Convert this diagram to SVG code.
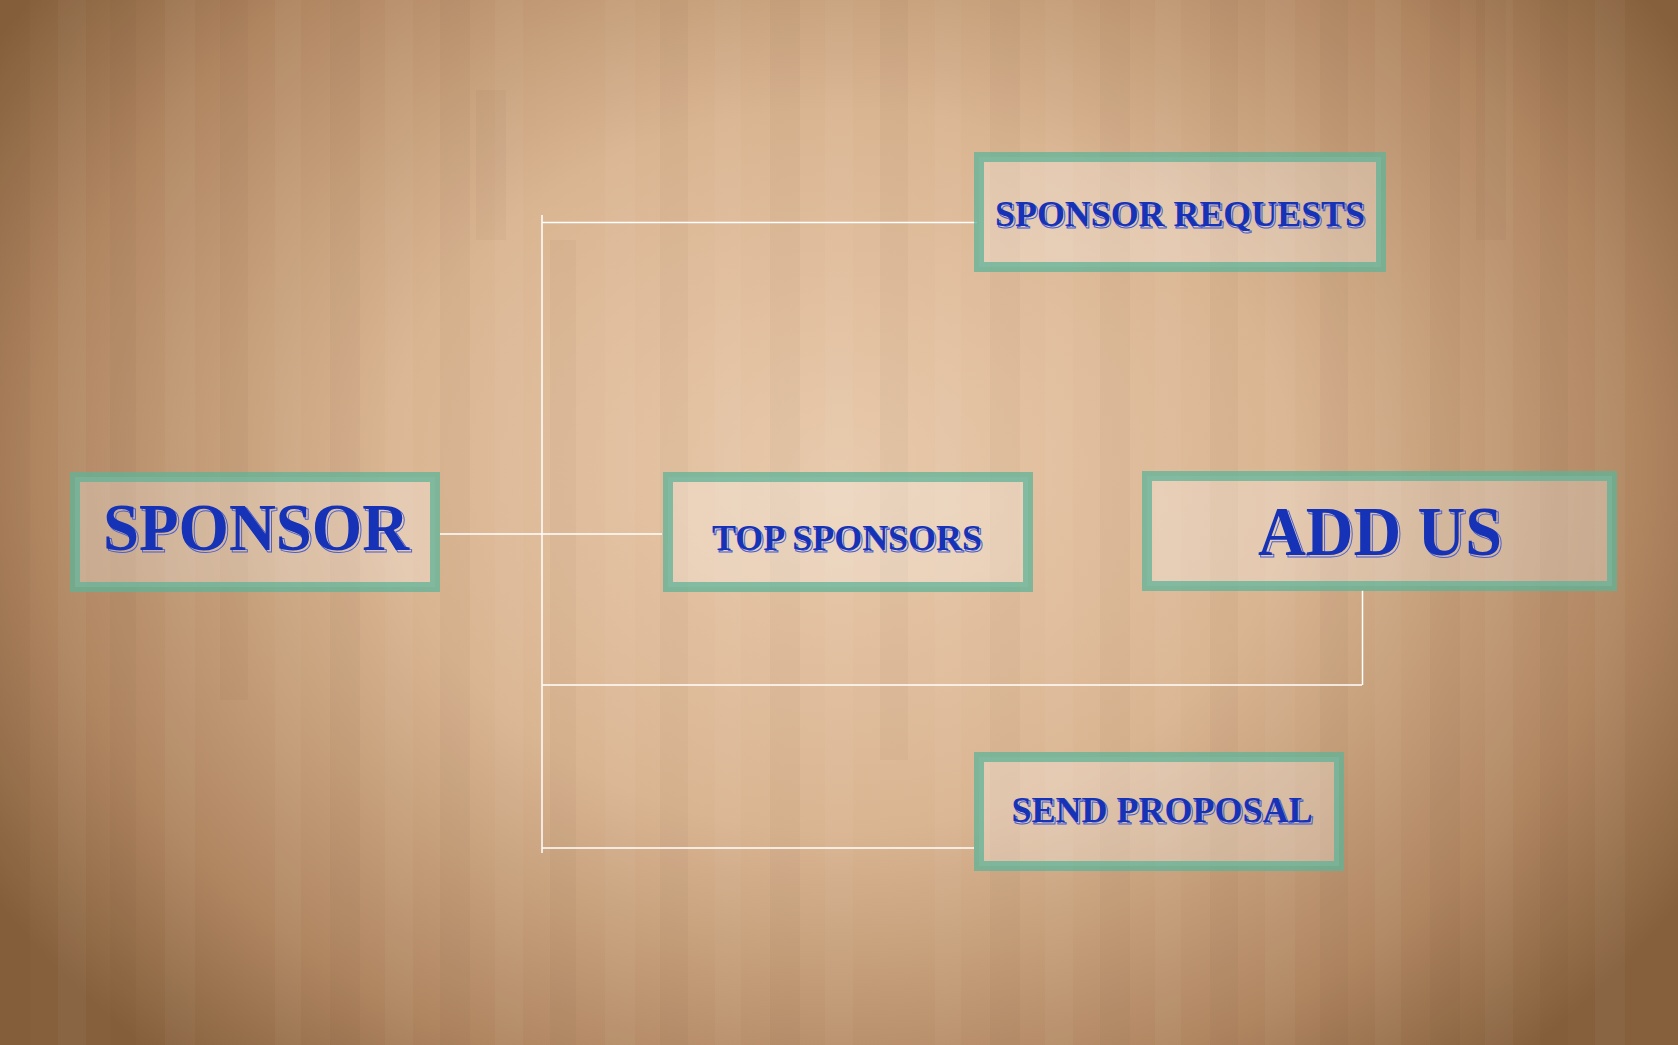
<svg xmlns="http://www.w3.org/2000/svg" width="1678" height="1045" viewBox="0 0 1678 1045">
<defs>
<radialGradient id="bg" cx="839" cy="470" r="1000" gradientUnits="userSpaceOnUse" gradientTransform="translate(839 470) scale(1 0.8) translate(-839 -470)">
<stop offset="0" stop-color="#e8c9ab"/>
<stop offset="0.45" stop-color="#dab592"/>
<stop offset="0.8" stop-color="#b08661"/>
<stop offset="1" stop-color="#86603d"/>
</radialGradient>
<style>
.box{fill:#ffffff;fill-opacity:0.28;stroke:#5fb398;stroke-opacity:0.75;stroke-width:10}
.lbl{font-family:"Liberation Serif","DejaVu Serif",serif;font-weight:bold;text-anchor:middle;fill:#1632b6}
.shd{font-family:"Liberation Serif","DejaVu Serif",serif;font-weight:bold;text-anchor:middle;fill:none;stroke:#4a5fd0;stroke-width:1}
.ln{stroke:#ffffff;stroke-width:1.5;fill:none}
.pd{fill:#5a3a1a;fill-opacity:0.035}
.pl{fill:#ffffff;fill-opacity:0.035}
</style>
</defs>
<rect width="1678" height="1045" fill="url(#bg)"/>
<g id="wood">
<rect class="pd" x="0" y="0" width="30" height="1045"/>
<rect class="pl" x="58" y="0" width="28" height="1045"/>
<rect class="pd" x="110" y="0" width="26" height="1045"/>
<rect class="pl" x="165" y="0" width="30" height="1045"/>
<rect class="pd" x="220" y="0" width="28" height="700"/>
<rect class="pl" x="275" y="0" width="26" height="1045"/>
<rect class="pd" x="330" y="0" width="30" height="1045"/>
<rect class="pl" x="385" y="0" width="28" height="1045"/>
<rect class="pd" x="440" y="0" width="30" height="1045"/>
<rect class="pl" x="495" y="0" width="28" height="1045"/>
<rect class="pd" x="550" y="240" width="26" height="805"/>
<rect class="pl" x="605" y="0" width="30" height="1045"/>
<rect class="pd" x="660" y="0" width="28" height="1045"/>
<rect class="pl" x="715" y="0" width="26" height="1045"/>
<rect class="pd" x="770" y="0" width="30" height="1045"/>
<rect class="pl" x="825" y="0" width="28" height="1045"/>
<rect class="pd" x="880" y="0" width="28" height="760"/>
<rect class="pl" x="935" y="0" width="26" height="1045"/>
<rect class="pd" x="990" y="0" width="30" height="1045"/>
<rect class="pl" x="1045" y="0" width="28" height="1045"/>
<rect class="pd" x="1100" y="0" width="30" height="1045"/>
<rect class="pl" x="1155" y="0" width="26" height="1045"/>
<rect class="pd" x="1210" y="0" width="28" height="1045"/>
<rect class="pl" x="1265" y="0" width="30" height="1045"/>
<rect class="pd" x="1320" y="0" width="28" height="1045"/>
<rect class="pl" x="1375" y="0" width="26" height="1045"/>
<rect class="pd" x="1430" y="0" width="30" height="1045"/>
<rect class="pl" x="1485" y="0" width="28" height="1045"/>
<rect class="pd" x="1540" y="0" width="28" height="1045"/>
<rect class="pl" x="1595" y="0" width="30" height="1045"/>
<rect class="pd" x="1476" y="0" width="30" height="240"/>
<rect class="pd" x="476" y="90" width="30" height="150"/>
</g>
<g id="connectors">
<line class="ln" x1="542" y1="215" x2="542" y2="853"/>
<line class="ln" x1="542" y1="222.5" x2="977" y2="222.5"/>
<line class="ln" x1="440" y1="534" x2="662" y2="534"/>
<line class="ln" x1="542" y1="685" x2="1362" y2="685"/>
<line class="ln" x1="1362.5" y1="590" x2="1362.5" y2="685"/>
<line class="ln" x1="542" y1="848" x2="974" y2="848"/>
</g>
<g id="node-sponsor">
<rect class="box" x="75" y="477" width="360" height="110"/>
<text class="shd" x="258" y="552" font-size="68" textLength="306" lengthAdjust="spacingAndGlyphs">SPONSOR</text>
<text class="lbl" x="256" y="550" font-size="68" textLength="306" lengthAdjust="spacingAndGlyphs">SPONSOR</text>
</g>
<g id="node-top-sponsors">
<rect class="box" x="668" y="477" width="360" height="110"/>
<text class="shd" x="848.5" y="551.5" font-size="36" textLength="270" lengthAdjust="spacingAndGlyphs">TOP SPONSORS</text>
<text class="lbl" x="847" y="550" font-size="36" textLength="270" lengthAdjust="spacingAndGlyphs">TOP SPONSORS</text>
</g>
<g id="node-add-us">
<rect class="box" x="1147" y="476" width="465" height="110"/>
<text class="shd" x="1382" y="557" font-size="70" textLength="244" lengthAdjust="spacingAndGlyphs">ADD US</text>
<text class="lbl" x="1380" y="555" font-size="70" textLength="244" lengthAdjust="spacingAndGlyphs">ADD US</text>
</g>
<g id="node-sponsor-requests">
<rect class="box" x="979" y="157" width="402" height="110"/>
<text class="shd" x="1181.5" y="227.5" font-size="36" textLength="370" lengthAdjust="spacingAndGlyphs">SPONSOR REQUESTS</text>
<text class="lbl" x="1180" y="226" font-size="36" textLength="370" lengthAdjust="spacingAndGlyphs">SPONSOR REQUESTS</text>
</g>
<g id="node-send-proposal">
<rect class="box" x="979" y="757" width="360" height="109"/>
<text class="shd" x="1163.5" y="823.5" font-size="36" textLength="301" lengthAdjust="spacingAndGlyphs">SEND PROPOSAL</text>
<text class="lbl" x="1162" y="822" font-size="36" textLength="301" lengthAdjust="spacingAndGlyphs">SEND PROPOSAL</text>
</g>
</svg>
